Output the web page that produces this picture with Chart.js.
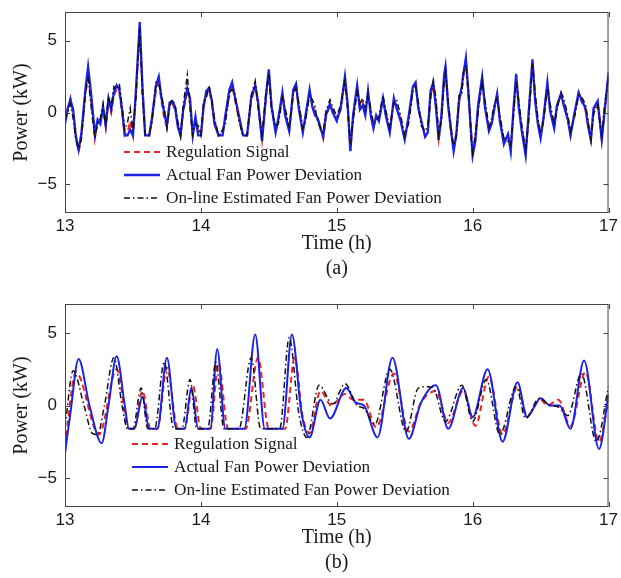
<!DOCTYPE html>
<html>
<head>
<meta charset="utf-8">
<script src="https://cdn.jsdelivr.net/npm/chart.js@4"></script>
<style>
  html, body { margin: 0; padding: 0; background: #fff; }
  .panel { position: relative; width: 621px; }
  canvas { display: block; }
</style>
</head>
<body>
<div class="panel" style="height:290px"><canvas id="chartA" width="621" height="290"></canvas></div>
<div class="panel" style="height:288px"><canvas id="chartB" width="621" height="288"></canvas></div>
<script>
// axis ticks
const xTicks = [13, 14, 15, 16, 17];
const yTicks = [-5, 0, 5];

const seriesNames = ['Regulation Signal', 'Actual Fan Power Deviation', 'On-line Estimated Fan Power Deviation'];

// (a) shared time points (h) and the three series (kW)
const tA = [13.00, 13.02, 13.04, 13.06, 13.08, 13.10, 13.12, 13.15, 13.17, 13.19, 13.22, 13.24, 13.26, 13.28, 13.30, 13.32, 13.34, 13.36, 13.38, 13.40,
  13.42, 13.44, 13.46, 13.48, 13.50, 13.52, 13.55, 13.57, 13.59, 13.62, 13.64, 13.67, 13.69, 13.71, 13.73, 13.75, 13.77, 13.79, 13.81, 13.83,
  13.85, 13.87, 13.90, 13.92, 13.94, 13.96, 13.98, 14.00, 14.02, 14.04, 14.06, 14.08, 14.10, 14.13, 14.16, 14.18, 14.21, 14.23, 14.25, 14.28,
  14.31, 14.34, 14.37, 14.40, 14.42, 14.45, 14.48, 14.50, 14.52, 14.55, 14.57, 14.60, 14.62, 14.65, 14.68, 14.70, 14.72, 14.75, 14.77, 14.80,
  14.82, 14.84, 14.86, 14.90, 14.92, 14.95, 14.97, 15.00, 15.03, 15.06, 15.08, 15.10, 15.12, 15.15, 15.17, 15.19, 15.21, 15.23, 15.25, 15.27,
  15.29, 15.31, 15.34, 15.36, 15.39, 15.42, 15.44, 15.47, 15.50, 15.53, 15.56, 15.58, 15.60, 15.62, 15.65, 15.67, 15.69, 15.71, 15.73, 15.75,
  15.77, 15.79, 15.80, 15.82, 15.84, 15.86, 15.88, 15.90, 15.92, 15.93, 15.95, 15.97, 15.99, 16.00, 16.02, 16.04, 16.07, 16.09, 16.12, 16.14,
  16.16, 16.18, 16.20, 16.23, 16.26, 16.28, 16.30, 16.32, 16.34, 16.36, 16.39, 16.41, 16.44, 16.46, 16.48, 16.50, 16.52, 16.55, 16.57, 16.60,
  16.62, 16.65, 16.67, 16.70, 16.72, 16.75, 16.78, 16.80, 16.83, 16.85, 16.87, 16.89, 16.92, 16.95, 16.97, 17.00];
const regA = [-0.6, 0.2, 1.0, 0.0, -1.5, -2.8, -1.7, 1.2, 2.6, 1.0, -1.8, -0.6, -0.7, 0.3, -1.0, 0.8, 0.0, 1.2, 1.6, 1.4,
  0.0, -1.6, -1.4, -0.6, -1.6, 1.0, 5.8, 1.5, -1.6, -1.6, -0.5, 1.6, 2.3, 0.8, -0.4, -1.0, 0.5, 0.6, 0.2, -0.8,
  -1.6, 0.0, 1.6, 0.6, -1.6, -0.5, -1.3, -1.6, 0.5, 1.3, 1.6, 0.6, -0.6, -1.6, -1.4, -0.4, 1.2, 1.9, 0.9, -0.4,
  -1.6, -1.6, 0.8, 1.8, 0.6, -1.9, 1.0, 2.8, 0.5, -1.2, -0.5, 1.3, 0.0, -1.2, 1.4, 1.9, 0.5, -1.3, -0.4, 1.4,
  0.6, 0.0, -0.5, -1.8, -0.3, 0.5, 0.2, -0.5, 0.2, 2.3, 0.5, -2.6, -0.4, 1.7, 0.4, 0.7, 0.0, 1.2, 0.0, -1.0,
  -0.3, -0.5, 0.9, 0.0, -1.3, 0.8, 0.5, -0.5, -1.8, -0.4, 1.6, 2.0, 0.4, -0.6, -1.6, -1.3, 1.2, 1.9, 0.6, -1.8,
  -0.3, 2.3, 3.0, 0.6, -1.0, -2.5, -1.4, 0.9, 1.6, 2.4, 3.6, 1.0, -1.5, -2.9, -1.8, 0.3, 2.3, 0.6, -1.2, -0.6,
  0.4, 1.2, -0.4, -2.0, -1.6, -2.6, 0.0, 2.5, 0.5, -1.0, -2.8, -0.5, 3.5, 1.0, -0.6, -1.7, -0.4, 1.9, 0.3, -1.0,
  0.4, 1.2, 0.6, -0.4, -1.5, -0.1, 1.3, 0.8, 0.2, -0.8, -1.8, 0.2, 0.7, -1.8, -0.2, 2.6];
const actA = [-0.8, 0.3, 0.9, 0.2, -1.7, -2.6, -1.5, 1.6, 3.2, 1.5, -1.5, -0.5, -0.8, 0.4, -0.9, 1.0, 0.2, 1.4, 1.9, 1.6,
  0.2, -1.6, -1.6, -1.2, -1.6, 1.2, 6.3, 1.8, -1.6, -1.6, -0.4, 1.9, 2.5, 1.0, 0.0, -0.9, 0.7, 0.8, 0.4, -1.0,
  -1.6, 0.2, 1.7, 1.0, -1.6, -0.3, -1.6, -1.6, 0.4, 1.5, 1.7, 0.9, -0.8, -1.6, -1.6, -0.2, 1.6, 2.1, 1.1, -0.2,
  -1.6, -1.6, 1.0, 1.9, 0.8, -2.0, 1.3, 3.0, 0.4, -1.4, -0.4, 1.4, -0.2, -1.3, 1.6, 2.0, 0.3, -1.4, -0.2, 1.6,
  0.4, -0.2, -0.4, -1.7, -0.2, 0.6, 0.0, -0.6, 0.4, 2.5, 0.6, -2.7, -0.2, 1.9, 0.2, 0.5, -0.2, 1.5, -0.2, -1.1,
  -0.2, -0.6, 1.0, -0.2, -1.4, 1.0, 0.3, -0.6, -1.9, -0.2, 1.8, 2.1, 0.3, -0.5, -1.7, -1.4, 1.5, 2.1, 0.3, -1.9,
  -0.2, 2.6, 3.2, 0.4, -1.2, -2.7, -1.5, 0.8, 1.8, 2.6, 3.8, 1.2, -1.7, -3.0, -2.0, 0.5, 2.5, 0.4, -1.3, -0.8,
  0.3, 1.3, -0.6, -2.2, -1.5, -2.7, 0.2, 2.7, 0.3, -1.2, -3.0, -0.3, 3.7, 0.8, -0.8, -1.8, -0.5, 2.1, 0.1, -1.1,
  0.5, 1.3, 0.5, -0.5, -1.6, 0.0, 1.4, 0.9, 0.3, -1.0, -1.9, 0.3, 0.8, -1.9, 0.0, 2.8];
const estA = [-0.5, 0.0, 0.6, -0.4, -1.9, -2.5, -1.9, 1.3, 2.5, 0.6, -1.8, -0.8, -0.4, 0.6, -0.9, 1.1, 0.4, 1.8, 1.6, 2.0,
  0.4, -1.2, -0.7, 0.3, -1.3, 0.8, 5.9, 1.2, -1.6, -1.6, -0.6, 2.1, 2.0, 1.2, 0.3, -1.1, 0.4, 0.9, 0.5, -0.6,
  -1.6, 0.5, 2.6, 0.4, -1.6, -0.8, -0.9, -1.6, 0.8, 1.0, 1.9, 0.8, -0.4, -1.6, -1.2, -0.8, 1.4, 1.6, 1.3, -0.6,
  -1.6, -1.6, 1.2, 2.2, 0.5, -1.6, 1.5, 2.7, 0.2, -1.0, -0.8, 1.0, 0.3, -1.0, 1.3, 1.7, 0.7, -1.1, -0.6, 1.2,
  0.9, 0.4, -0.7, -1.4, 0.1, 0.9, 0.4, -0.3, 0.6, 2.2, 0.2, -2.2, -0.6, 1.5, 0.6, 1.0, 0.3, 1.3, 0.3, -0.8,
  -0.6, -0.3, 1.2, 0.2, -1.1, 0.7, 0.9, -0.2, -1.6, -0.7, 1.5, 1.8, 0.8, -0.9, -1.3, -0.9, 1.0, 2.2, 1.0, -1.6,
  -0.6, 2.0, 2.8, 0.8, -1.3, -2.3, -1.7, 1.2, 1.2, 2.7, 3.3, 1.6, -2.0, -2.8, -1.5, 0.0, 2.2, 0.9, -1.0, -0.4,
  0.6, 1.0, -0.2, -1.8, -2.0, -2.3, -0.3, 2.2, 0.8, -0.8, -2.6, -0.8, 3.4, 1.4, -0.4, -1.4, -0.7, 1.7, 0.6, -0.8,
  0.2, 1.4, 1.0, -0.2, -1.3, -0.3, 1.2, 1.1, 0.6, -0.6, -1.9, -0.1, 0.6, -1.6, 0.4, 2.5];

// (b) each series read at its own peaks / troughs
const tRegB = [13.00, 13.08, 13.25, 13.38, 13.47, 13.51, 13.57, 13.63, 13.68, 13.75, 13.83, 13.88, 13.94, 14.00, 14.07, 14.13, 14.20, 14.33,
  14.42, 14.50, 14.62, 14.69, 14.75, 14.80, 14.88, 14.96, 15.06, 15.12, 15.20, 15.29, 15.42, 15.53, 15.62, 15.73, 15.82, 15.93, 16.02,
  16.12, 16.22, 16.33, 16.40, 16.50, 16.55, 16.63, 16.72, 16.83, 16.93, 17.00];
const regB = [-2.8, 2.3, -2.0, 2.5, -1.6, -1.6, 1.0, -1.6, -1.6, 2.6, -1.6, -1.6, 1.4, -1.6, -1.6, 2.9, -1.6, -1.6,
  3.3, -1.6, -1.6, 3.3, -0.8, -1.9, 1.0, 0.0, 0.8, 0.4, 0.4, -1.5, 2.2, -1.8, 0.2, 1.0, -1.2, 1.0, -1.4,
  2.0, -2.0, 1.3, -0.7, 0.4, 0.0, 0.4, -1.4, 2.3, -2.5, 0.4];
const tActB = [13.00, 13.04, 13.10, 13.18, 13.27, 13.32, 13.38, 13.44, 13.47, 13.51, 13.57, 13.62, 13.68, 13.75, 13.82, 13.88, 13.93, 13.98,
  14.07, 14.12, 14.18, 14.32, 14.40, 14.47, 14.60, 14.67, 14.74, 14.80, 14.88, 14.95, 15.07, 15.14, 15.20, 15.30, 15.41, 15.53, 15.62,
  15.73, 15.82, 15.93, 16.00, 16.11, 16.22, 16.33, 16.40, 16.50, 16.57, 16.64, 16.72, 16.82, 16.93, 17.00];
const actB = [-3.3, -0.5, 3.2, 0.0, -2.6, 0.0, 3.4, 0.0, -1.6, -1.6, 0.6, -1.6, -1.6, 3.3, -1.6, -1.6, 1.2, -1.6,
  -1.6, 3.9, -1.6, -1.6, 4.9, -1.6, -1.6, 4.9, -0.5, -2.2, 0.4, -0.9, 1.2, 0.2, 0.0, -2.2, 3.3, -2.3, 0.2,
  1.4, -1.6, 1.2, -0.8, 2.5, -2.5, 1.6, -0.8, 0.5, 0.0, 0.0, -1.6, 3.1, -3.0, 0.8];
const tEstB = [13.00, 13.06, 13.14, 13.20, 13.24, 13.29, 13.36, 13.42, 13.46, 13.50, 13.56, 13.61, 13.66, 13.73, 13.80, 13.86, 13.92, 13.97,
  14.05, 14.11, 14.17, 14.28, 14.37, 14.44, 14.58, 14.65, 14.72, 14.78, 14.87, 14.97, 15.06, 15.15, 15.20, 15.28, 15.39, 15.51, 15.60,
  15.67, 15.71, 15.80, 15.92, 16.00, 16.10, 16.20, 16.32, 16.39, 16.49, 16.57, 16.63, 16.70, 16.80, 16.91, 17.00];
const estB = [-1.5, 2.4, 0.0, -1.9, -2.0, 0.0, 3.3, 0.0, -1.6, -1.6, 1.2, -1.6, -1.6, 3.0, -1.6, -1.6, 1.8, -1.6,
  -1.6, 3.0, -1.6, -1.6, 3.3, -1.6, -1.6, 4.7, -0.5, -2.2, 1.4, 0.1, 1.5, 0.0, -0.2, -1.3, 2.5, -1.8, 1.2,
  1.3, 1.2, -1.1, 1.4, -1.1, 1.8, -2.0, 1.3, -0.9, 0.5, 0.0, -0.1, -0.7, 2.2, -2.5, 1.3];

const textColor = '#1a1a1a';
const tickFont = { family: '"Liberation Sans", Arial, sans-serif', size: 17 };
const titleFont = { family: '"Liberation Serif", "Times New Roman", serif', size: 20, lineHeight: 1.25 };

function points(ts, vs) {
  return ts.map((t, i) => ({ x: t, y: vs[i] }));
}

// box around the plot with inward tick marks, matlab style
const frame = {
  id: 'frame',
  afterDatasetsDraw(chart) {
    const { ctx, chartArea: a, scales } = chart;
    const len = 5;
    ctx.save();
    ctx.strokeStyle = '#444';
    ctx.lineWidth = 1;
    ctx.strokeRect(a.left + 0.5, a.top + 0.5, a.width - 1, a.height - 1);
    ctx.beginPath();
    xTicks.forEach(v => {
      const px = Math.round(scales.x.getPixelForValue(v)) + 0.5;
      ctx.moveTo(px, a.bottom); ctx.lineTo(px, a.bottom - len);
      ctx.moveTo(px, a.top); ctx.lineTo(px, a.top + len);
    });
    yTicks.forEach(v => {
      const py = Math.round(scales.y.getPixelForValue(v)) + 0.5;
      ctx.moveTo(a.left, py); ctx.lineTo(a.left + len, py);
      ctx.moveTo(a.right, py); ctx.lineTo(a.right - len, py);
    });
    ctx.stroke();
    ctx.restore();
  }
};

// legend drawn inside the plot area
const insideLegend = {
  id: 'insideLegend',
  afterDraw(chart, args, opts) {
    const { ctx, chartArea: a } = chart;
    const x0 = a.left + opts.left;
    let y = a.top + opts.top;
    ctx.save();
    chart.data.datasets.forEach(ds => {
      ctx.beginPath();
      ctx.setLineDash(ds.borderDash || []);
      ctx.strokeStyle = ds.borderColor;
      ctx.lineWidth = ds.borderWidth;
      ctx.moveTo(x0, y);
      ctx.lineTo(x0 + opts.lineLength, y);
      ctx.stroke();
      ctx.setLineDash([]);
      ctx.fillStyle = textColor;
      ctx.font = '17.2px "Liberation Serif", "Times New Roman", serif';
      ctx.textBaseline = 'middle';
      ctx.fillText(ds.label, x0 + opts.lineLength + 6, y);
      y += opts.rowGap;
    });
    ctx.restore();
  }
};

function makeDatasets(reg, act, est, smooth) {
  const common = { pointRadius: 0, fill: false, cubicInterpolationMode: smooth ? 'monotone' : 'default', tension: 0 };
  return [
    { ...common, label: seriesNames[0], data: reg, borderColor: '#ee2424', borderWidth: 2, borderDash: [6, 4], order: 3 },
    { ...common, label: seriesNames[1], data: act, borderColor: '#1a22e6', borderWidth: smooth ? 2 : 2.3, order: 2 },
    { ...common, label: seriesNames[2], data: est, borderColor: '#111111', borderWidth: 1.5, borderDash: [6, 3, 1.5, 3], order: 1 }
  ];
}

function makeScales(panelLabel, xAxisHeight, titleBottom) {
  return {
    x: {
      type: 'linear', min: 13, max: 17,
      afterBuildTicks: s => { s.ticks = xTicks.map(v => ({ value: v })); },
      afterFit: s => { s.height = xAxisHeight; },
      grid: { display: false, drawTicks: false },
      border: { display: false },
      ticks: { font: tickFont, color: textColor, padding: 3, maxRotation: 0 },
      title: { display: true, text: ['Time (h)', panelLabel], font: titleFont, color: textColor, padding: { top: 0, bottom: titleBottom } }
    },
    y: {
      min: -7, max: 7,
      afterBuildTicks: s => { s.ticks = yTicks.map(v => ({ value: v })); },
      // fixed axis width; no extra top/bottom room for labels
      afterFit: s => { s.width = 65; s.paddingTop = 0; s.paddingBottom = 0; },
      grid: { display: false, drawTicks: false },
      border: { display: false },
      ticks: { font: tickFont, color: textColor, padding: 8, callback: v => String(v).replace('-', '\u2212') },
      title: { display: true, text: 'Power (kW)', font: titleFont, color: textColor, padding: { top: 9, bottom: 0 } }
    }
  };
}

function makeChart(id, datasets, panelLabel, padTop, xAxisHeight, titleBottom, legendLeft) {
  return new Chart(document.getElementById(id), {
    type: 'line',
    data: { datasets: datasets },
    options: {
      responsive: false,
      animation: false,
      layout: { padding: { top: padTop, right: 10, left: 0, bottom: 0 } },
      scales: makeScales(panelLabel, xAxisHeight, titleBottom),
      plugins: {
        legend: { display: false },
        tooltip: { enabled: false },
        insideLegend: { left: legendLeft, top: 140, lineLength: 36, rowGap: 23 }
      }
    },
    plugins: [frame, insideLegend]
  });
}

makeChart('chartA', makeDatasets(points(tA, regA), points(tA, actA), points(tA, estA), false), '(a)', 12, 77, 9, 59);
makeChart('chartB', makeDatasets(points(tRegB, regB), points(tActB, actB), points(tEstB, estB), true), '(b)', 14, 71, 3, 67);
</script>
</body>
</html>
